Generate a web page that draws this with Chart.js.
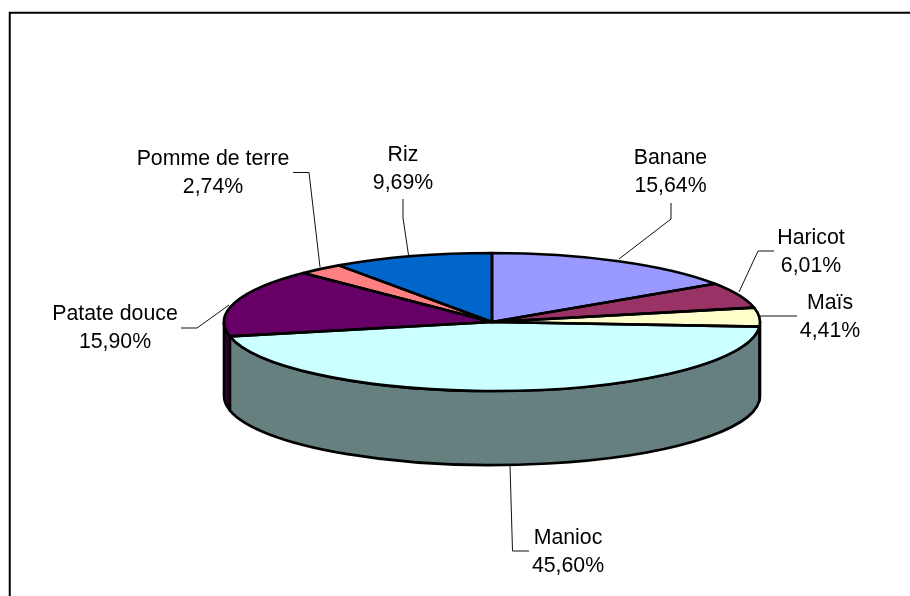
<!DOCTYPE html>
<html>
<head>
<meta charset="utf-8">
<style>html,body{margin:0;padding:0;background:#fff}canvas{display:block}</style>
<script src="https://cdn.jsdelivr.net/npm/chart.js@4"></script>
</head>
<body>
<canvas id="c" width="910" height="596"></canvas>
<script>
const categories = ['Banane','Haricot','Maïs','Manioc','Patate douce','Pomme de terre','Riz'];
const shares = [15.64,6.01,4.41,45.60,15.90,2.74,9.69];
const topColors = ['#9999FF','#993366','#FFFFCC','#CCFFFF','#660066','#FF8080','#0066CC'];
const sideColors = ['#4D4D80','#4D1A33','#808066','#668080','#330033','#804040','#003366'];

// Label anchors (centre x, first baseline y) and their leader lines
const labelAnchors = [[670.5,164],[811,244],[830,309],[568,544],[115,320],[213,165],[403,161]];
const leaders = [
  [[671,203],[671,219],[619,259]],
  [[774,251],[758,251],[739,292]],
  [[797,316],[760,316]],
  [[529,551],[512.5,551],[510,465]],
  [[181,328],[197,328],[229,305]],
  [[293,172.5],[309,172.5],[320,267]],
  [[403,199],[403,218],[408.5,255]]
];

// Projection of the flat pie to the tilted disc
const TILT = {cx:492, cy:322, ry:69, depth:74};

function project(ctx, arc){
  ctx.translate(TILT.cx, TILT.cy);
  ctx.scale(1, TILT.ry / arc.outerRadius);
  ctx.translate(-arc.x, -arc.y);
}

const pie3d = {
  id:'pie3d',
  beforeDatasetsDraw(chart){
    const ctx = chart.ctx;
    const arcs = chart.getDatasetMeta(0).data;
    ctx.save();
    ctx.fillStyle='#fff';
    ctx.fillRect(0,0,chart.width,chart.height);
    // frame
    ctx.strokeStyle='#000'; ctx.lineWidth=2;
    ctx.beginPath(); ctx.moveTo(910,12.75); ctx.lineTo(9.75,12.75); ctx.lineTo(9.75,596); ctx.stroke();
    // walls
    const rx = arcs[0].outerRadius, k = TILT.ry/rx;
    arcs.forEach((arc,i)=>{
      const norm = a => { const t=Math.PI*2; return ((a%t)+t)%t; };
      let s = arc.startAngle, e = arc.endAngle;
      // keep only the part of the rim that faces the viewer
      const ranges = [[0,Math.PI],[Math.PI*2,Math.PI*3]];
      const base = norm(s) - s;
      s += base; e += base;
      ranges.forEach(([lo,hi])=>{
        const a = Math.max(s,lo), b = Math.min(e,hi);
        if(b<=a) return;
        ctx.beginPath();
        ctx.ellipse(TILT.cx,TILT.cy,rx,rx*k,0,a,b,false);
        ctx.ellipse(TILT.cx,TILT.cy+TILT.depth,rx,rx*k,0,b,a,true);
        ctx.closePath();
        ctx.fillStyle = sideColors[i];
        ctx.fill();
        ctx.lineWidth=2.6; ctx.lineJoin='round'; ctx.strokeStyle='#000';
        ctx.stroke();
      });
    });
    ctx.restore();
    ctx.save();
    project(ctx, arcs[0]);
  },
  afterDatasetsDraw(chart){
    const ctx = chart.ctx;
    ctx.restore();
    const arcs = chart.getDatasetMeta(0).data;
    arcs.forEach(arc=>{
      ctx.save();
      ctx.save();
      project(ctx, arc);
      ctx.beginPath();
      ctx.moveTo(arc.x,arc.y);
      ctx.arc(arc.x,arc.y,arc.outerRadius,arc.startAngle,arc.endAngle);
      ctx.closePath();
      ctx.restore();
      ctx.lineWidth=2.6; ctx.lineJoin='round'; ctx.strokeStyle='#000';
      ctx.stroke();
      ctx.restore();
    });
    // leaders and labels
    ctx.save();
    ctx.lineWidth=1; ctx.strokeStyle='#111';
    leaders.forEach(pts=>{
      ctx.beginPath();
      pts.forEach((p,i)=> i?ctx.lineTo(p[0],p[1]):ctx.moveTo(p[0],p[1]));
      ctx.stroke();
    });
    ctx.fillStyle='#000';
    ctx.font='21.3px "Liberation Sans", Arial, sans-serif';
    ctx.textAlign='center'; ctx.textBaseline='alphabetic';
    categories.forEach((name,i)=>{
      const [x,y]=labelAnchors[i];
      ctx.fillText(name,x,y);
      ctx.fillText(shares[i].toFixed(2).replace('.',',')+'%',x,y+28);
    });
    ctx.restore();
  }
};

new Chart(document.getElementById('c'),{
  type:'pie',
  data:{labels:categories,datasets:[{data:shares,backgroundColor:topColors,borderWidth:0,hoverOffset:0}]},
  options:{
    responsive:false,animation:false,
    layout:{padding:{left:74,top:30,bottom:30,right:0}},
    plugins:{legend:{display:false},tooltip:{enabled:false},title:{display:false}},
    events:[]
  },
  plugins:[pie3d]
});
</script>
</body>
</html>
